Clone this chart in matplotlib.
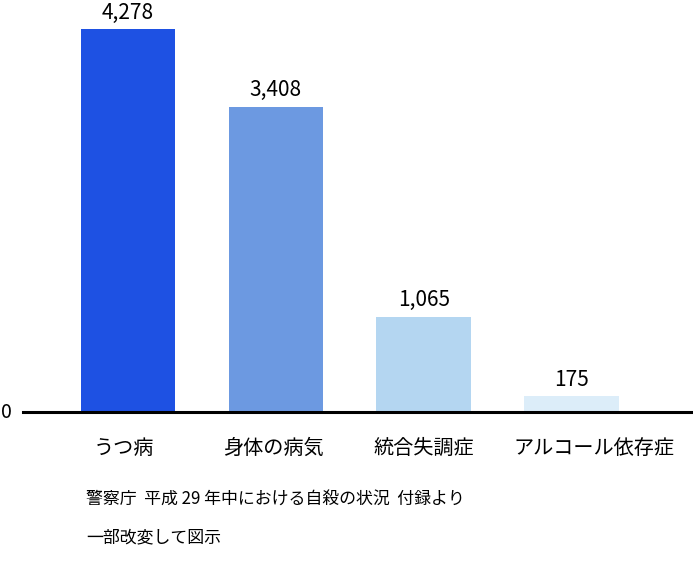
import matplotlib.pyplot as plt

plt.rcParams['font.family'] = ['Noto Sans CJK JP', 'DejaVu Sans']

# data
categories = ["うつ病", "身体の病気", "統合失調症", "アルコール依存症"]
counts = [4278, 3408, 1065, 175]
bar_colors = ["#1e51e3", "#6c99e1", "#b4d6f1", "#dcedf9"]
source_lines = ["警察庁  平成 29 年中における自殺の状況  付録より", "一部改変して図示"]

# small horizontal nudges of the category labels (data units)
label_shift = [-0.03, -0.02, 0.0, 0.15]

fig = plt.figure(figsize=(6.93, 5.74), dpi=100)
ax = fig.add_axes([23 / 693, 162 / 574, 670 / 693, 412 / 574])

x = list(range(len(categories)))
bars = ax.bar(x, counts, width=0.64, color=bar_colors)

# value labels above bars
for b, v in zip(bars, counts):
    ax.annotate(f"{v:,}", (b.get_x() + b.get_width() / 2, v),
                xytext=(0, 4), textcoords="offset points",
                ha="center", va="bottom", fontsize=15)

ax.set_xlim(-0.71, 3.82)
ax.set_ylim(0, 4603)

# category labels under the baseline
ax.set_xticks([])
ax.set_yticks([])
for i, name in enumerate(categories):
    ax.text(i + label_shift[i], -36 / 412 * 4603, name, ha="center", va="center",
            fontsize=14.5)

for s in ["top", "right", "left"]:
    ax.spines[s].set_visible(False)
ax.spines["bottom"].set_linewidth(2.2)
ax.spines["bottom"].set_color("black")

# zero label at the left of the baseline
fig.text(6 / 693, 1 - 412 / 574, "0", ha="center", va="center", fontsize=14)

# source note
fig.text(86 / 693, 1 - 500 / 574, source_lines[0], ha="left", va="center", fontsize=12.2)
fig.text(86 / 693, 1 - 537 / 574, source_lines[1], ha="left", va="center", fontsize=12.2)

plt.savefig("out.png", dpi=100)
